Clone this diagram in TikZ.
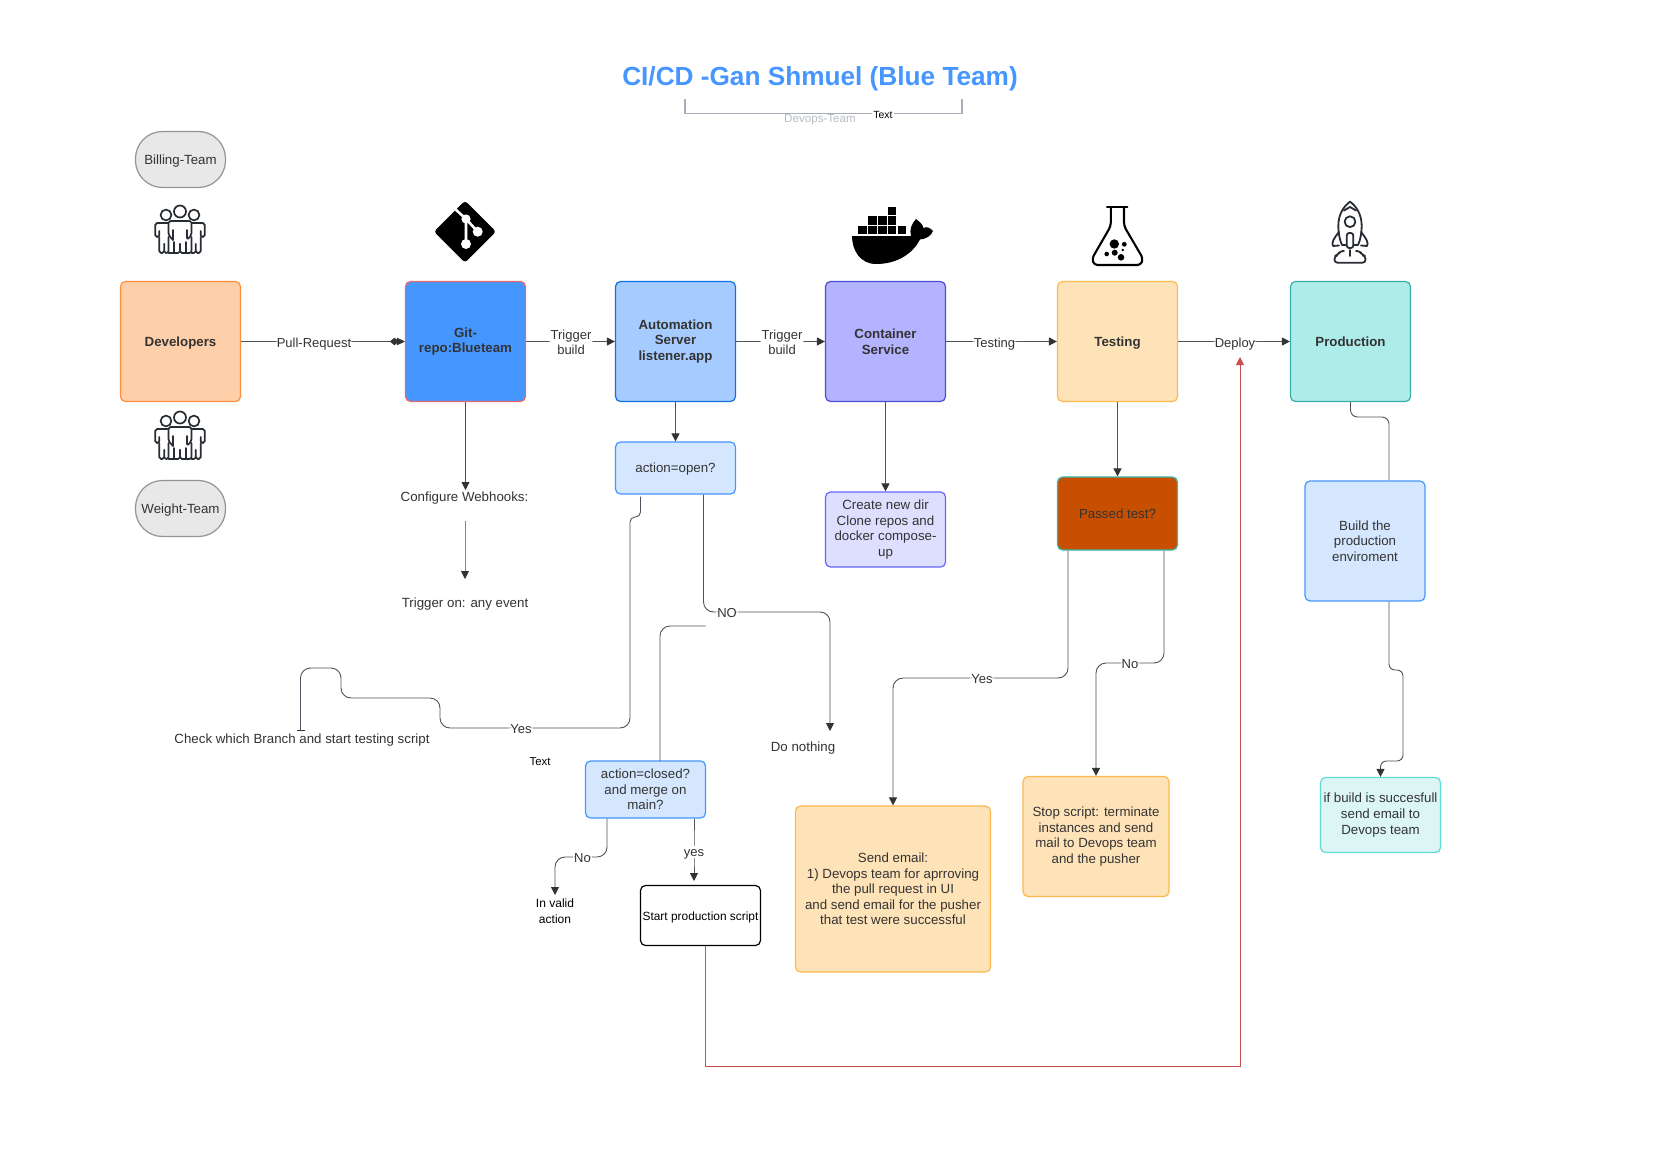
\documentclass[tikz,border=0pt]{standalone}
\usepackage{fontspec}
\setmainfont{Liberation Sans}
\usetikzlibrary{arrows.meta,calc}
\definecolor{txt}{HTML}{333333}
\definecolor{lin}{HTML}{4C535D}
\definecolor{iconc}{HTML}{282C33}
\definecolor{redl}{HTML}{C74F4E}
\definecolor{titlec}{HTML}{4596FF}
\definecolor{brk}{HTML}{A9AFB8}
\definecolor{dvt}{HTML}{B9BDC4}
\definecolor{devF}{HTML}{FFCFA9}\definecolor{devS}{HTML}{FF8F3F}
\definecolor{gitF}{HTML}{4596FF}\definecolor{gitS}{HTML}{E8686B}
\definecolor{autF}{HTML}{A6CCFF}\definecolor{autS}{HTML}{1071E5}
\definecolor{conF}{HTML}{B3B3FF}\definecolor{conS}{HTML}{4C4CD5}
\definecolor{tesF}{HTML}{FFE3B8}\definecolor{tesS}{HTML}{FFB84D}
\definecolor{proF}{HTML}{AEECE9}\definecolor{proS}{HTML}{3AAFA9}
\definecolor{actF}{HTML}{D5E7FF}\definecolor{actS}{HTML}{4596FF}
\definecolor{creF}{HTML}{DEDEFF}\definecolor{creS}{HTML}{6666FF}
\definecolor{pasF}{HTML}{C94F00}\definecolor{pasS}{HTML}{3BB6B0}
\definecolor{ifbF}{HTML}{DBF6F5}\definecolor{ifbS}{HTML}{5EDCD6}
\tikzset{
  one/.style={text height=9.6pt,text depth=0pt},
  box/.style={rounded corners=5pt,line width=1.2pt,align=center,inner sep=0pt,text=txt,
    font=\fontsize{13.3}{15.6}\selectfont},
  main/.style={box,minimum width=120pt,minimum height=120pt,
    font=\fontsize{13.3}{15.6}\selectfont\bfseries},
  pill/.style={box,one,minimum width=90pt,minimum height=56pt,rounded corners=27pt,fill=black!9,draw=black!42},
  conp/.style={draw=lin,line width=.9pt,rounded corners=10pt},
  conn/.style={conp,-{Triangle[length=8pt,width=8pt,color=txt]}},
  lbl/.style={fill=white,inner xsep=1pt,inner ysep=1pt,text=txt,align=center,yshift=-1pt,
    font=\fontsize{13}{15.6}\selectfont},
  free/.style={text=txt,align=center,inner sep=0pt,font=\fontsize{13.3}{15.6}\selectfont},
  blk/.style={text=black,align=center,inner sep=0pt,font=\fontsize{12}{15.6}\selectfont},
}
\newcommand\peopleicon[1]{%
\begin{scope}[shift={#1},draw=iconc,line width=1.7pt,line join=round,line cap=round,rounded corners=1.8pt]
  \draw (-14,-17) circle[radius=5.4];
  \draw (14,-17) circle[radius=5.4];
  \draw[fill=white] (0,-20.5) circle[radius=6];
  \draw (-9,-9) -- (-24.7,-9) -- (-24.7,5) -- (-20.7,5) -- (-20.7,-1);
  \draw (9,-9) -- (24.7,-9) -- (24.7,5) -- (20.7,5) -- (20.7,-1);
  \draw[fill=white] (-7,8) -- (-11.5,3) -- (-11.5,-11) -- (11.5,-11) -- (11.5,3) -- (7,8) -- (7,-2);
  \draw (-7,8) -- (-7,-2);
  \draw (-20.7,5) -- (-20.7,21) -- (-15.8,21) -- (-15.8,10) -- (-15.8,21) -- (-11.5,21) -- (-11.5,5);
  \draw (-11.5,21) -- (-5.5,21) -- (0,21) -- (0,10) -- (0,21) -- (5.5,21) -- (11.5,21) -- (11.5,5);
  \draw (-5.7,21) -- (-5.7,10);
  \draw (5.7,21) -- (5.7,10);
  \draw (20.7,5) -- (20.7,21) -- (15.8,21) -- (15.8,10) -- (15.8,21) -- (11.5,21);
\end{scope}}
\begin{document}
\begin{tikzpicture}[x=1pt,y=-1pt]
\fill[white] (0,0) rectangle (1654,1169);
\useasboundingbox (0,0) rectangle (1654,1169);

% title
\node[text=titlec,font=\fontsize{26.2}{30}\selectfont\bfseries,inner sep=0pt] (title) at (820,79) {CI/CD -Gan Shmuel (Blue Team)};
\coordinate (brL) at (685,99);
\coordinate (brR) at (962,99);
\draw[draw=brk,line width=1.1pt] (brL) -- (685,113.5) -- (883,113.5) node[fill=white,inner xsep=1pt,inner ysep=0pt,yshift=-1pt,text=black,font=\fontsize{10.4}{12}\selectfont](brtext){Text} -- (962,113.5) -- (brR);
\node[text=dvt,one,font=\fontsize{11.6}{12}\selectfont,inner sep=0pt] (devops) at (820,118) {Devops-Team};

% main row
\node[main,one,fill=devF,draw=devS] (dev) at (180.5,341.5) {Developers};
\node[main,fill=gitF,draw=gitS] (git) at (465.5,341.5) {Git-\\repo:Blueteam};
\node[main,fill=autF,draw=autS] (auto) at (675.5,341.5) {Automation\\Server\\listener.app};
\node[main,fill=conF,draw=conS] (cont) at (885.5,341.5) {Container\\Service};
\node[main,one,fill=tesF,draw=tesS] (test) at (1117.5,341.5) {Testing};
\node[main,one,fill=proF,draw=proS] (prod) at (1350.5,341.5) {Production};

\node[pill] (bill) at (180.5,159.5) {Billing-Team};
\node[pill] (weig) at (180.5,508.5) {Weight-Team};

% secondary boxes
\node[box,one,fill=actF,draw=actS,minimum width=120pt,minimum height=52pt] (aopen) at (675.5,468) {action=open?};
\node[box,fill=actF,draw=actS,minimum width=120pt,minimum height=57pt] (aclosed) at (645.5,789.5) {action=closed?\\and merge on\\main?};
\node[box,one,draw=black,fill=white,text=black,minimum width=120pt,minimum height=60pt,font=\fontsize{11.9}{15}\selectfont] (start) at (700.5,915.5) {Start production script};
\node[box,fill=creF,draw=creS,minimum width=120pt,minimum height=75pt] (create) at (885.5,529.5) {Create new dir\\Clone repos and\\docker compose-\\up};
\node[box,one,fill=pasF,draw=pasS,minimum width=120pt,minimum height=73pt] (passed) at (1117.5,513.5) {Passed test?};
\node[box,fill=actF,draw=actS,minimum width=120pt,minimum height=120pt] (build) at (1365,541) {Build the\\production\\enviroment};
\node[box,fill=ifbF,draw=ifbS,minimum width=120pt,minimum height=75pt] (ifb) at (1380.5,815) {if build is succesfull\\send email to\\Devops team};
\node[box,fill=tesF,draw=tesS,minimum width=195pt,minimum height=166pt] (send) at (893,889) {Send email:\\1) Devops team for aprroving\\the pull request in UI\\and send email for the pusher\\that test were successful};
\node[box,fill=tesF,draw=tesS,minimum width=146pt,minimum height=120pt] (stop) at (1096,836.5) {Stop script: terminate\\instances and send\\mail to Devops team\\and the pusher};

% free texts
\node[free,one] (cfg) at (464.5,497) {Configure Webhooks:};
\node[free,one] (trig) at (465,603) {Trigger on: any event};
\node[free,one] (chk) at (302,739) {Check which Branch and start testing script};
\node[free,one] (nothing) at (803,747) {Do nothing};
\node[blk,one,font=\fontsize{11.4}{15}\selectfont] (txt2) at (540,761) {Text};
\node[blk] (inval) at (555,911) {In valid\\action};

% free connector ends
\coordinate (cfgTip) at (465.5,490);
\coordinate (trigTail) at (465,521);
\coordinate (trigTip) at (465,579);
\coordinate (chkEnd) at (300.5,731);
\coordinate (noneTip) at (830,731);
\coordinate (noTail) at (705.5,626);
\coordinate (invTip) at (555,895);
\coordinate (deployTip) at (1240,357);

% connectors
\draw[conp,-{Diamond[length=9pt,width=7.5pt,sep=-2pt,color=txt]Triangle[length=8pt,width=7.5pt,color=txt]}] (dev.east) -- (314,341.5) node[lbl,one](lPull){Pull-Request} -- (git.west);
\draw[conn] (git.east) -- (571,341.5) node[lbl](lTrig1){Trigger\\build} -- (auto.west);
\draw[conn] (auto.east) -- (782,341.5) node[lbl](lTrig2){Trigger\\build} -- (cont.west);
\draw[conn] (cont.east) -- (994.5,341.5) node[lbl,one](lTest){Testing} -- (test.west);
\draw[conn] (test.east) -- (1235,341.5) node[lbl,one](lDep){Deploy} -- (prod.west);

\draw[conn] (git.south) -- (cfgTip);
\draw[conn,draw=lin!70] (trigTail) -- (trigTip);
\draw[conn] (auto.south) -- (aopen.north);
\draw[conn] (cont.south) -- (create.north);
\draw[conn] (test.south) -- (passed.north);

\draw[conp,rounded corners=5pt,-{Bar[width=8pt,color=txt]}] ([xshift=-35pt,yshift=-2pt]aopen.south) -- (640.5,517) -- (630,517) [rounded corners=10pt] -- (630,728) -- (521,728) node[lbl,one](lYes){Yes} -- (440,728) -- (440,698) -- (341,698) -- (341,668) -- (300.5,668) -- (chkEnd);
\draw[conn] ([xshift=28pt]aopen.south) -- (703.5,612) -- (727,612) node[lbl,one](lNo){NO} -- (830,612) -- (noneTip);
\draw[conp] (noTail) -- (660,626) -- (660,761);
\draw[conn] ([xshift=-38.5pt]aclosed.south) -- (607,857) -- (582.5,857) node[lbl,one](lNo2){No} -- (555,857) -- (invTip);
\draw[conn] ([xshift=48.5pt]aclosed.south) -- (694,851) node[lbl,one](lyes){yes} -- (694,881);
\draw[conn] ([xshift=-49.5pt]passed.south) -- (1068,678) -- (982,678) node[lbl,one](lYes2){Yes} -- (893,678) -- (send.north);
\draw[conn] ([xshift=46.5pt]passed.south) -- (1164,663) -- (1130,663) node[lbl,one](lNo3){No} -- (1096,663) -- (stop.north);
\draw[conp,rounded corners=7pt] (prod.south) -- (1350.5,417) -- (1389,417) -- ([xshift=24pt]build.north);
\draw[conn,rounded corners=6pt] ([xshift=24pt]build.south) -- (1389,670) -- (1403,670) -- (1403,761) -- (1380.5,761) -- (ifb.north);
\draw[draw=redl,line width=.9pt,-{Triangle[length=8pt,width=8pt,color=redl]}] ([xshift=4.5pt]start.south) -- (705,1066) -- (1240,1066) -- (deployTip);

% icons
\peopleicon{(180,232)}
\peopleicon{(180,438)}
% git
\fill[black,rounded corners=3pt] (465,200.7) -- (496,231.7) -- (465,262.7) -- (434,231.7) -- cycle;
\draw[white,line width=2.6pt] (454,208) -- (466,219) -- (477.7,231.7) (466,219) -- (466,244);
\fill[white] (466,219) circle[radius=4.6] (477.7,231.7) circle[radius=5] (466,244) circle[radius=5];
% docker
\foreach \sx/\sy in {858.3/225.7,868.3/225.7,878.3/225.7,888/225.7,897.7/225.7,868.3/216.5,878.3/216.5,888/216.5,888/207.3}
  \fill[black] (\sx,\sy) rectangle ++(8.3,8.2);
\fill[black] (852,236) -- (911,236) .. controls (909,230) and (912,223) .. (916,219) .. controls (920,222) and (923,225) .. (923.5,228) .. controls (927,226) and (930,228) .. (933,231) .. controls (931,236) and (926,239) .. (920,239.5) .. controls (913,253) and (898,264) .. (876,264) .. controls (860,264) and (852,250) .. (852,236) -- cycle;
% flask
\begin{scope}[draw=black,line width=2.1pt,line cap=round,line join=round]
  \draw (1107,207.3) -- (1127.3,207.3);
  \draw[rounded corners=3.5pt] (1110.8,207.3) -- (1110.8,226) -- (1092,258.5) -- (1094,265) -- (1141,265) -- (1143,258.5) -- (1124,226) -- (1124,207.3);
  \fill[black] (1114.3,244) circle[radius=4.7] (1124.3,244.3) circle[radius=2.4] (1114.7,252.7) circle[radius=3] (1106.7,254) circle[radius=2.3] (1121,257.3) circle[radius=3.3] (1122.7,250) circle[radius=1.4];
\end{scope}
% rocket
\begin{scope}[draw=iconc,line width=1.8pt,line cap=round,line join=round]
  \draw (1350,201.7) .. controls (1356,206) and (1361.7,214) .. (1361.7,226) .. controls (1361.7,232) and (1360.5,240) .. (1358,245) -- (1342,245) .. controls (1339.5,240) and (1338.3,232) .. (1338.3,226) .. controls (1338.3,214) and (1344,206) .. (1350,201.7) -- cycle;
  \draw (1344,210.5) -- (1350,207) -- (1356,210.5);
  \draw (1350,221.7) circle[radius=5.4];
  \draw (1339,232) .. controls (1334,238) and (1331,243) .. (1333,246) -- (1339,245.5);
  \draw (1361,232) .. controls (1366,238) and (1369,243) .. (1367,246) -- (1361,245.5);
  \draw[fill=white,rounded corners=2.5pt] (1346.7,248) -- (1346.7,233) -- (1353.3,233) -- (1353.3,248) -- cycle;
  \draw[rounded corners=3pt] (1344,251) -- (1340,251) -- (1338,255) -- (1334.5,256) -- (1334.5,262.7) -- (1365.5,262.7) -- (1365.5,256) -- (1362,255) -- (1360,251) -- (1356,251);
  \draw (1350,250) -- (1350,256);
\end{scope}
\end{tikzpicture}
\end{document}
